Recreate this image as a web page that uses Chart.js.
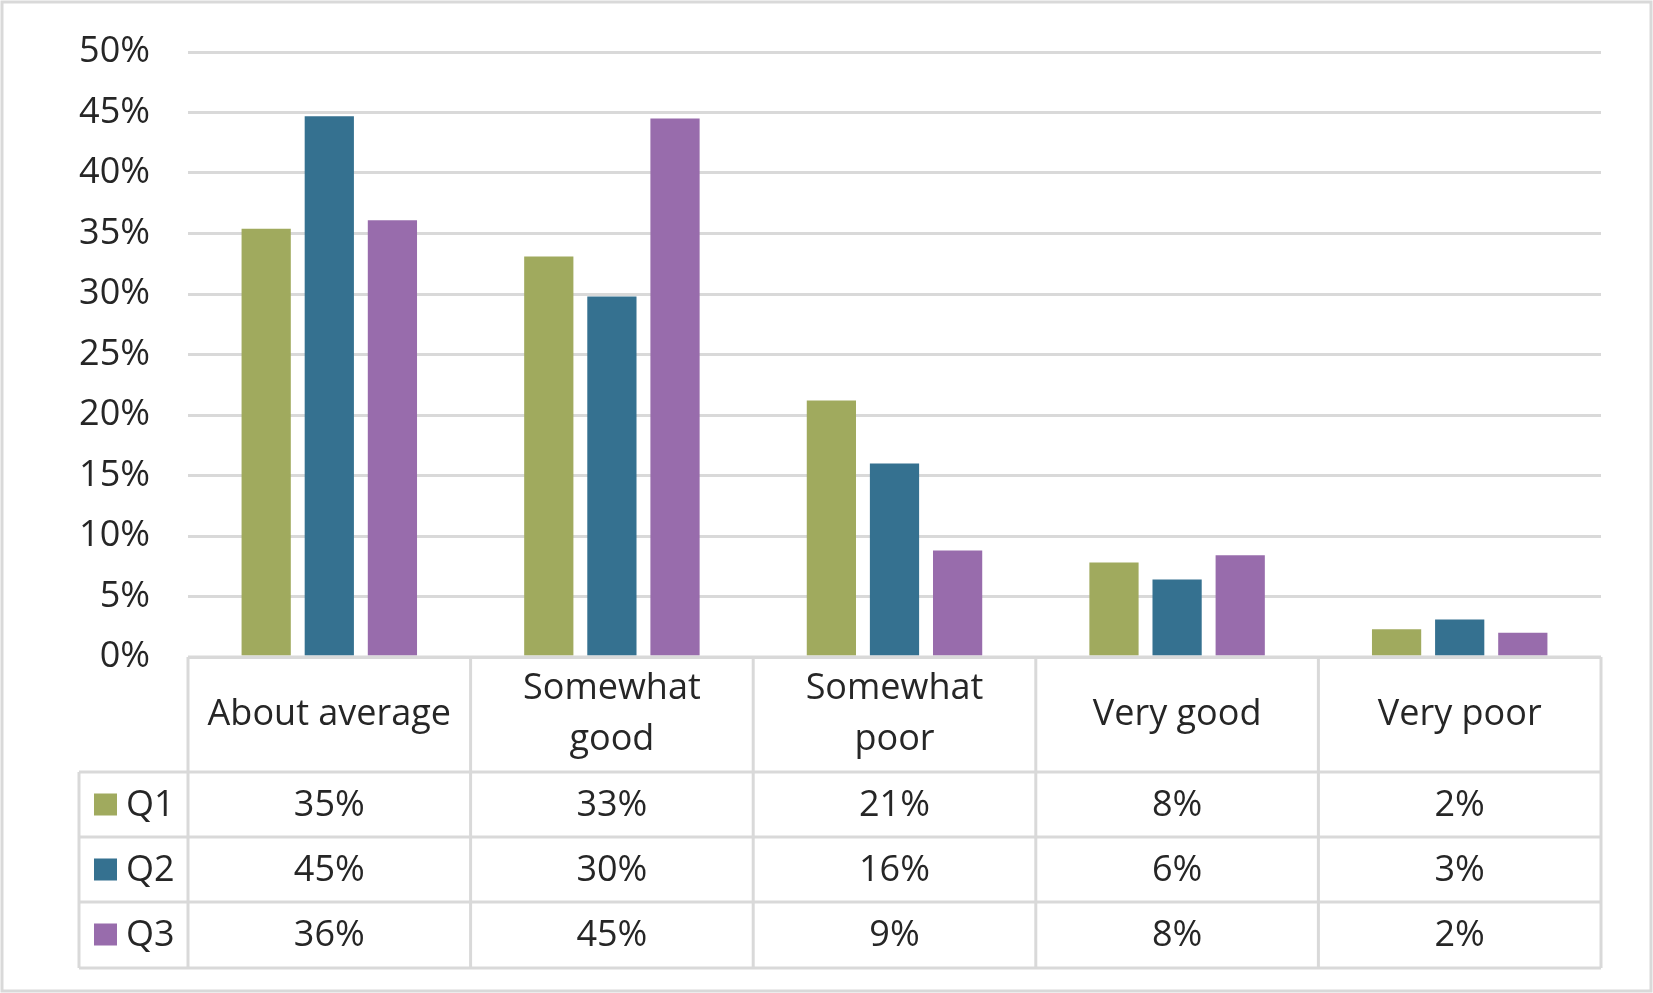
<!DOCTYPE html>
<html>
<head>
<meta charset="utf-8">
<script src="https://cdn.jsdelivr.net/npm/chart.js@4"></script>
<style>
    body { margin: 0; background: #ffffff; }
</style>
</head>
<body>
<canvas id="myChart" width="1653" height="993"></canvas>
<script>
// Data

const categories = ['About average', ['Somewhat', 'good'], ['Somewhat', 'poor'], 'Very good', 'Very poor'];
const seriesNames = ['Q1', 'Q2', 'Q3'];
const q1Values = [35.4, 33.1, 21.2, 7.8, 2.3];
const q2Values = [44.7, 29.8, 16.0, 6.4, 3.1];
const q3Values = [36.1, 44.5, 8.8, 8.4, 2.0];
const seriesColors = ['#A0AA5E', '#357190', '#986CAC'];

const textColor = '#262626';
const lineColor = '#D9D9D9';
const fontFamily = '"Open Sans", sans-serif';
const fontSize = 36;

// Data table under the bars, drawn from the x scale

const dataTable = {
    id: 'dataTable',
    beforeDraw(chart) {
        const ctx = chart.ctx;
        ctx.save();
        ctx.fillStyle = '#ffffff';
        ctx.fillRect(0, 0, chart.width, chart.height);
        ctx.strokeStyle = lineColor;
        ctx.lineWidth = 3;
        ctx.strokeRect(2, 2, chart.width - 4, chart.height - 4);
        ctx.restore();
    },
    afterDraw(chart) {
        const ctx = chart.ctx;
        const xScale = chart.scales.x;
        const area = chart.chartArea;
        const colWidth = area.width / categories.length;
        const legendLeft = 79;
        const headTop = area.bottom;
        const headBottom = headTop + 115;
        const rowHeight = 65;
        const tableBottom = headBottom + rowHeight * seriesNames.length + 1;

        ctx.save();
        ctx.strokeStyle = lineColor;
        ctx.lineWidth = 3;
        ctx.beginPath();
        // horizontal lines
        ctx.moveTo(area.left, headTop);
        ctx.lineTo(area.right, headTop);
        for (let r = 0; r <= seriesNames.length; r++) {
            const y = r === seriesNames.length ? tableBottom : headBottom + r * rowHeight;
            ctx.moveTo(legendLeft, y);
            ctx.lineTo(area.right, y);
        }
        // vertical lines
        ctx.moveTo(legendLeft, headBottom);
        ctx.lineTo(legendLeft, tableBottom);
        for (let i = 0; i <= categories.length; i++) {
            const x = i < categories.length ? xScale.getPixelForValue(i) - colWidth / 2 : area.right;
            ctx.moveTo(x, headTop);
            ctx.lineTo(x, tableBottom);
        }
        ctx.stroke();

        ctx.fillStyle = textColor;
        ctx.font = fontSize + 'px ' + fontFamily;
        ctx.textAlign = 'center';
        ctx.textBaseline = 'middle';

        // category labels
        categories.forEach((label, i) => {
            const x = xScale.getPixelForValue(i);
            const lines = Array.isArray(label) ? label : [label];
            const mid = (headTop + headBottom) / 2;
            lines.forEach((line, k) => {
                const y = mid + (k - (lines.length - 1) / 2) * 51;
                ctx.fillText(line, x, y);
            });
        });

        // series rows
        chart.data.datasets.forEach((ds, r) => {
            const y = headBottom + r * rowHeight + rowHeight / 2;
            ctx.fillStyle = ds.backgroundColor;
            ctx.fillRect(94, y - 11, 23, 22);
            ctx.fillStyle = textColor;
            ctx.textAlign = 'left';
            ctx.fillText(ds.label, 126, y + 1);
            ctx.textAlign = 'center';
            ds.data.forEach((v, i) => {
                ctx.fillText(Math.round(v) + '%', xScale.getPixelForValue(i), y + 1);
            });
        });
        ctx.restore();
    }
};

// Bar Chart

const data = {
    labels: categories,
    datasets: [q1Values, q2Values, q3Values].map((values, i) => ({
        label: seriesNames[i],
        data: values,
        backgroundColor: seriesColors[i],
        barPercentage: 0.78,
        categoryPercentage: 0.67
    }))
};

const config = {
    type: 'bar',
    data: data,
    options: {
        responsive: false,
        animation: false,
        devicePixelRatio: 1,
        layout: {
            padding: { left: 0, top: 52, right: 52, bottom: 336 }
        },
        plugins: {
            legend: { display: false },
            tooltip: { enabled: false }
        },
        scales: {
            x: { display: false },
            y: {
                min: 0,
                max: 50,
                afterFit: (scale) => {
                    scale.width = 188;
                    scale.paddingTop = 0;
                    scale.paddingBottom = 0;
                },
                border: { display: false },
                grid: { color: lineColor, lineWidth: 3, drawTicks: false },
                ticks: {
                    stepSize: 5,
                    padding: 38,
                    color: textColor,
                    font: { family: fontFamily, size: fontSize },
                    callback: (v) => v + '%'
                }
            }
        }
    },
    plugins: [dataTable]
};

const myChart = new Chart(document.getElementById('myChart'), config);
</script>
</body>
</html>
